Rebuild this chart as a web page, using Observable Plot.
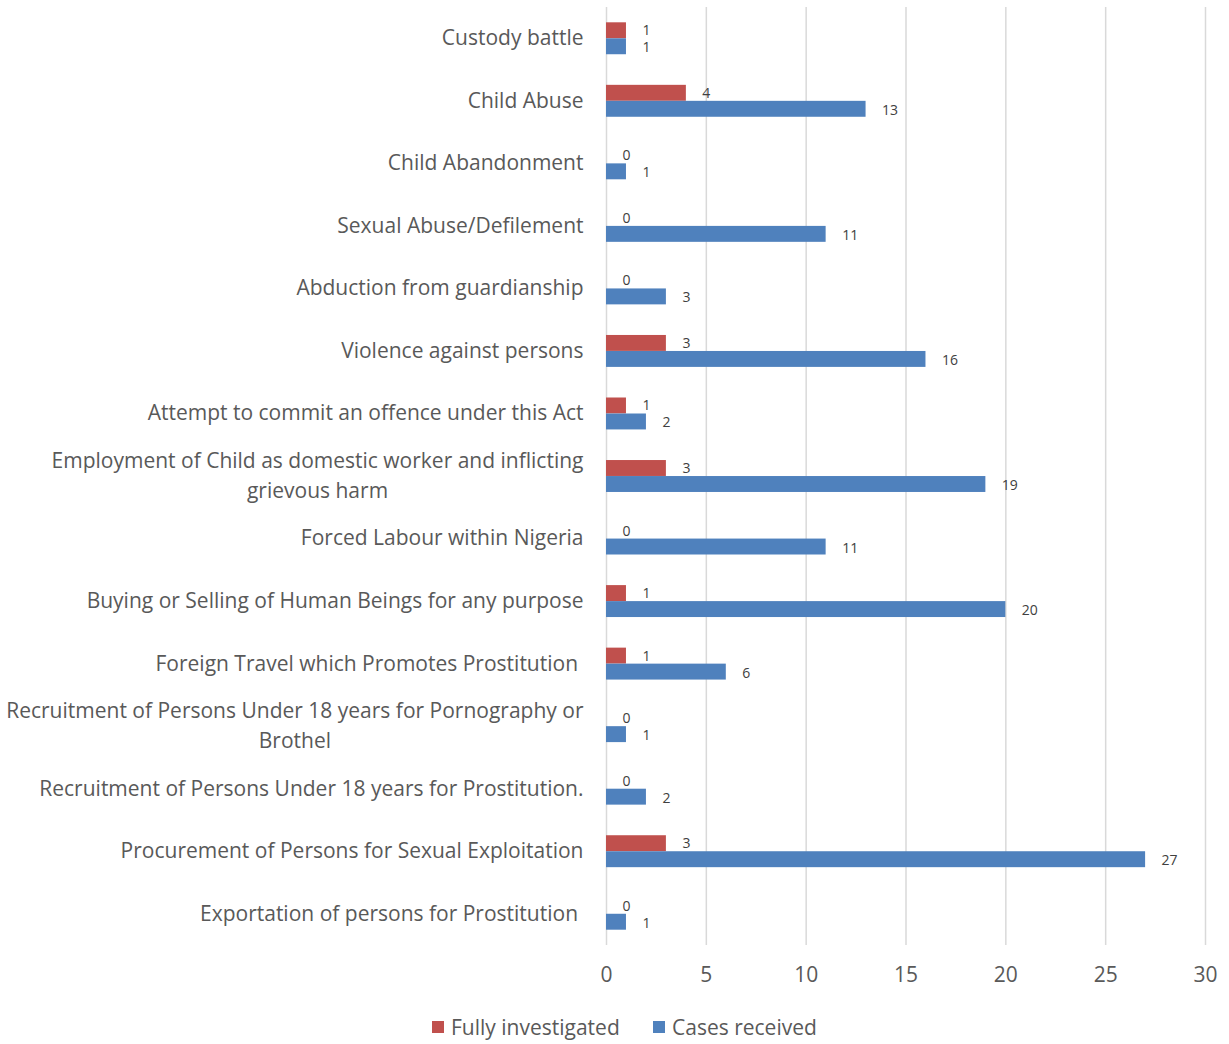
<!DOCTYPE html>
<html>
<head>
<meta charset="utf-8">
<script src="https://cdn.jsdelivr.net/npm/d3@7"></script>
<script src="https://cdn.jsdelivr.net/npm/@observablehq/plot@0.6"></script>
<style>
  body { margin: 0; background: #fff; font-family: "Open Sans", sans-serif; }
  #legend { position: relative; height: 39px; font-size: 21px; color: #595959; }
  .lg { position: absolute; top: 8px; display: flex; align-items: center; gap: 7px; }
  .sw { width: 12px; height: 12px; display: inline-block; }
</style>
</head>
<body>
<div id="chart"></div>
<div id="legend">
  <div class="lg" style="left:432px"><span class="sw" style="background:#C0504D"></span><span id="l0"></span></div>
  <div class="lg" style="left:653px"><span class="sw" style="background:#4F81BD"></span><span id="l1"></span></div>
</div>
<script>
const categories = [
  "Custody battle",
  "Child Abuse",
  "Child Abandonment",
  "Sexual Abuse/Defilement",
  "Abduction from guardianship",
  "Violence against persons",
  "Attempt to commit an offence under this Act",
  "Employment of Child as domestic worker and inflicting\ngrievous harm",
  "Forced Labour within Nigeria",
  "Buying or Selling of Human Beings for any purpose",
  "Foreign Travel which Promotes Prostitution ",
  "Recruitment of Persons Under 18 years for Pornography or\nBrothel",
  "Recruitment of Persons Under 18 years for Prostitution.",
  "Procurement of Persons for Sexual Exploitation",
  "Exportation of persons for Prostitution "
];
const fullyInvestigated = [1, 4, 0, 0, 0, 3, 1, 3, 0, 1, 1, 0, 0, 3, 0];
const casesReceived     = [1, 13, 1, 11, 3, 16, 2, 19, 11, 20, 6, 1, 2, 27, 1];
const seriesNames = ["Fully investigated", "Cases received"];
const seriesColors = ["#C0504D", "#4F81BD"];
const xTicks = [0, 5, 10, 15, 20, 25, 30];

document.getElementById("l0").textContent = seriesNames[0];
document.getElementById("l1").textContent = seriesNames[1];

const fi = categories.map((c, i) => ({cat: c, v: fullyInvestigated[i]}));
const cr = categories.map((c, i) => ({cat: c, v: casesReceived[i]}));

const font = "'Open Sans', sans-serif";
const chart = Plot.plot({
  width: 1229,
  height: 1005,
  marginLeft: 606,
  marginRight: 24,
  marginTop: 7,
  marginBottom: 60,
  style: {fontFamily: font, background: "#fff"},
  x: {domain: [0, 30], ticks: xTicks},
  y: {domain: categories, padding: 0, round: false},
  marks: [
    Plot.gridX(xTicks, {stroke: "#d9d9d9", strokeOpacity: 1, strokeWidth: 1.5}),
    Plot.barX(fi, {x: "v", y: "cat", fill: seriesColors[0], insetTop: 15.3, insetBottom: 31.3}),
    Plot.barX(cr, {x: "v", y: "cat", fill: seriesColors[1], insetTop: 31.3, insetBottom: 15.3}),
    Plot.text(fi, {x: "v", y: "cat", text: d => String(d.v), textAnchor: "start", dx: 16, dy: -8, fontSize: 14, fill: "#404040"}),
    Plot.text(cr, {x: "v", y: "cat", text: d => String(d.v), textAnchor: "start", dx: 16, dy: 9, fontSize: 14, fill: "#404040"}),
    Plot.axisX({ticks: xTicks, tickSize: 0, tickPadding: 22, fontSize: 21, fill: "#595959", label: null}),
    Plot.axisY({tickSize: 0, tickPadding: 23, dy: -3, fontSize: 21, fill: "#595959", lineHeight: 1.4, label: null})
  ]
});
document.getElementById("chart").appendChild(chart);

// center wrapped category labels like the original
chart.querySelectorAll('g[aria-label="y-axis tick label"] text').forEach(t => {
  const spans = t.querySelectorAll("tspan");
  if (spans.length > 1) {
    let w = 0;
    spans.forEach(s => { w = Math.max(w, s.getComputedTextLength()); });
    t.setAttribute("text-anchor", "middle");
    spans.forEach(s => s.setAttribute("x", -w / 2));
  }
});
</script>
</body>
</html>
